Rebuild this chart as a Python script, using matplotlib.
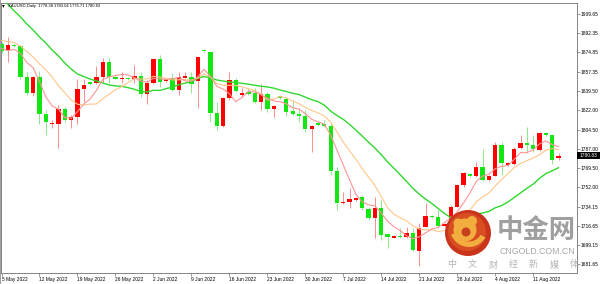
import numpy as np
import pandas as pd
import matplotlib
matplotlib.use('Agg')
import matplotlib.pyplot as plt
import matplotlib.transforms as mtransforms
from matplotlib.patches import Rectangle, Circle, Wedge

# daily XAUUSD bars, 5 May 2022 .. 16 Aug 2022
opens = [1882.6, 1877.1, 1882.1, 1881.0, 1852.2, 1837.6, 1852.2, 1818.5, 1809.3, 1809.9,
         1823.3, 1813.3, 1816.3, 1841.5, 1847.6, 1846.7, 1852.7, 1865.9, 1852.5, 1850.4,
         1851.6, 1850.4, 1853.6, 1836.7, 1846.7, 1868.9, 1849.1, 1851.3, 1840.6, 1852.0,
         1852.7, 1848.8, 1877.4, 1875.5, 1819.9, 1807.8, 1832.9, 1849.5, 1836.5, 1838.5,
         1837.6, 1829.9, 1837.0, 1823.3, 1835.1, 1832.7, 1821.2, 1819.0, 1817.2, 1805.0,
         1810.2, 1809.3, 1807.8, 1767.0, 1737.6, 1738.7, 1740.3, 1742.6, 1732.1, 1724.3,
         1733.3, 1709.0, 1705.9, 1707.7, 1706.3, 1710.5, 1694.2, 1715.9, 1725.7, 1724.5,
         1716.6, 1720.2, 1734.2, 1754.0, 1764.0, 1762.2, 1770.7, 1758.3, 1762.6, 1790.5,
         1771.9, 1773.1, 1787.3, 1792.6, 1790.0, 1786.2, 1801.1, 1799.3, 1778.38]
highs = [1884.4, 1889.0, 1883.0, 1882.1, 1857.0, 1853.4, 1857.9, 1822.4, 1813.3, 1826.9,
         1825.4, 1817.8, 1850.6, 1850.6, 1848.8, 1862.9, 1870.2, 1870.1, 1853.4, 1857.0,
         1852.5, 1863.4, 1857.3, 1849.7, 1869.8, 1872.5, 1851.5, 1856.4, 1856.6, 1857.3,
         1857.3, 1871.6, 1878.0, 1876.2, 1829.9, 1834.2, 1857.3, 1851.3, 1842.4, 1842.2,
         1842.4, 1846.1, 1839.1, 1826.9, 1836.0, 1834.5, 1831.5, 1823.9, 1822.4, 1808.7,
         1811.0, 1813.3, 1811.7, 1770.7, 1747.9, 1751.2, 1743.0, 1744.9, 1734.2, 1743.0,
         1740.3, 1709.3, 1708.4, 1714.8, 1715.4, 1714.5, 1719.3, 1738.0, 1726.6, 1731.2,
         1719.3, 1735.7, 1754.9, 1765.8, 1764.9, 1774.7, 1787.0, 1763.1, 1793.6, 1793.5,
         1774.5, 1788.2, 1799.6, 1806.9, 1799.6, 1801.9, 1801.9, 1800.0, 1783.04]
lows = [1874.4, 1866.2, 1879.8, 1851.1, 1836.1, 1835.1, 1809.6, 1799.6, 1805.9, 1787.7,
        1811.4, 1805.9, 1809.6, 1829.9, 1845.2, 1846.1, 1847.0, 1847.0, 1850.2, 1847.0,
        1849.7, 1846.7, 1834.5, 1827.8, 1846.1, 1843.6, 1847.9, 1839.7, 1836.1, 1851.5,
        1837.6, 1824.2, 1875.3, 1811.7, 1804.1, 1806.9, 1831.5, 1838.8, 1834.2, 1836.0,
        1828.8, 1822.4, 1820.8, 1815.7, 1832.4, 1816.9, 1817.8, 1811.7, 1802.0, 1784.3,
        1808.2, 1806.9, 1763.1, 1731.2, 1737.1, 1733.0, 1739.4, 1731.2, 1722.1, 1705.6,
        1703.8, 1696.2, 1705.2, 1705.6, 1705.6, 1693.8, 1680.1, 1715.7, 1723.9, 1714.8,
        1715.7, 1719.3, 1733.9, 1751.9, 1761.7, 1761.3, 1757.6, 1757.6, 1762.2, 1763.1,
        1771.3, 1772.2, 1786.8, 1782.9, 1784.3, 1785.4, 1799.1, 1772.7, 1776.71]
closes = [1876.2, 1881.7, 1880.7, 1852.2, 1837.6, 1852.2, 1818.5, 1811.2, 1810.5, 1823.3,
          1813.3, 1816.0, 1841.3, 1845.2, 1846.4, 1852.7, 1865.9, 1852.7, 1851.1, 1851.6,
          1850.4, 1853.6, 1836.7, 1846.7, 1868.9, 1847.9, 1850.6, 1840.6, 1852.2, 1853.4,
          1845.8, 1870.7, 1875.9, 1819.9, 1807.8, 1833.0, 1849.5, 1839.7, 1838.3, 1837.0,
          1829.9, 1837.0, 1823.0, 1826.3, 1833.3, 1820.6, 1818.7, 1817.2, 1805.0, 1807.8,
          1809.0, 1808.1, 1767.0, 1737.8, 1738.5, 1741.5, 1742.4, 1732.7, 1724.2, 1733.3,
          1708.4, 1706.1, 1707.5, 1706.3, 1710.5, 1694.7, 1714.8, 1725.4, 1724.5, 1716.8,
          1718.0, 1734.2, 1754.0, 1764.9, 1762.5, 1770.7, 1758.5, 1762.2, 1790.0, 1774.0,
          1773.6, 1787.1, 1792.7, 1790.2, 1786.5, 1801.1, 1799.8, 1776.8, 1780.83]

# moving averages: start of each line (needs bars before the window)
ma5_head = [1878.5, 1876.6, 1877.7, 1873.9]
ma10_head = [1885.8, 1884.8, 1883.9, 1880.7, 1875.7, 1870.7, 1864.3, 1858.9, 1852.5]
ma20_head = [1924.5, 1919.0, 1912.7, 1907.2, 1900.8, 1895.3, 1889.0, 1883.5, 1877.1, 1871.6,
             1865.2, 1859.8, 1855.2, 1852.9, 1850.6, 1848.8, 1847.0, 1845.2, 1844.3]

date_labels = ['5 May 2022', '12 May 2022', '19 May 2022', '26 May 2022', '2 Jun 2022',
               '9 Jun 2022', '16 Jun 2022', '23 Jun 2022', '30 Jun 2022', '7 Jul 2022',
               '14 Jul 2022', '21 Jul 2022', '28 Jul 2022', '4 Aug 2022', '11 Aug 2022']
price_labels = ['1909.65', '1892.35', '1874.85', '1857.35', '1839.50', '1822.00', '1804.50',
                '1787.00', '1769.50', '1752.00', '1734.15', '1716.65', '1699.15', '1681.65']
header = 'XAUUSD,Daily  1778.38 1783.04 1776.71 1780.83'
last_price = '1780.83'

plt.rcParams['font.family'] = ['Liberation Sans', 'DejaVu Sans']

n = len(closes)
idx = np.arange(n)
s = pd.Series(closes)
ma5 = s.rolling(5).mean().to_numpy()
ma5[:len(ma5_head)] = ma5_head
ma10 = s.rolling(10).mean().to_numpy()
ma10[:len(ma10_head)] = ma10_head
ma20 = s.rolling(20).mean().to_numpy()
ma20[:len(ma20_head)] = ma20_head

W, H = 602, 284
fig = plt.figure(figsize=(W / 100, H / 100), dpi=100)
fig.patch.set_facecolor('white')

def fx(px):
    return px / W

def fy(py):
    return 1 - py / H

# plot frame in pixels: x 1..576.5, y 2.7..272.7
ax = fig.add_axes([fx(1.0), fy(272.7), fx(575.5), 270.0 / H])
ax.set_xlim(-0.08, 90.84)
ax.set_ylim(1673.99, 1920.23)

# candles: red = up, green = down
for i in range(n):
    o, h, l, c = opens[i], highs[i], lows[i], closes[i]
    up = c >= o
    body = '#ff0000' if up else '#14e614'
    wick = '#ff8c8c' if up else '#8ee88e'
    ax.vlines(i, l, h, color=wick, lw=0.7, zorder=2)
    lo, hi = min(o, c), max(o, c)
    bh = max(hi - lo, 1.3)
    ax.add_patch(Rectangle((i - 0.34, (lo + hi) / 2 - bh / 2), 0.68, bh,
                           facecolor=body, edgecolor='none', zorder=3))

ax.plot(idx, ma20, color='#2fd82f', lw=1.0, zorder=4)
ax.plot(idx, ma10, color='#ffc68a', lw=0.8, zorder=4)
ax.plot(idx, ma5, color='#ff9595', lw=0.8, zorder=4)

for sp in ax.spines.values():
    sp.set_color('#707070')
    sp.set_linewidth(0.6)

ax.set_xticks(np.arange(0, 6 * len(date_labels), 6))
ax.set_xticklabels(date_labels, fontsize=3.5, ha='left')
ax.tick_params(axis='x', length=2, width=0.5, color='#707070', pad=1)
ax.yaxis.tick_right()
ax.set_yticks([float(v) for v in price_labels])
ax.set_yticklabels(price_labels, fontsize=3.5)
ax.tick_params(axis='y', length=2, width=0.5, color='#707070', pad=1)

# left window edge
fig.add_artist(Rectangle((0, 0), fx(1.0), 1, transform=fig.transFigure,
                         facecolor='#a0a0a0', edgecolor='none'))

# header
fig.text(fx(3.5), fy(5.5), '\u25be', fontsize=4, color='black', va='center', ha='center')
fig.text(fx(8.5), fy(5.5), header, fontsize=3.0, color='black', va='center', ha='left')

# current price marker on the price axis
blend = mtransforms.blended_transform_factory(fig.transFigure, ax.transData)
lp = float(last_price)
fig.add_artist(Rectangle((fx(577), lp - 3.3), fx(23), 6.6, transform=blend,
                         facecolor='black', edgecolor='none', zorder=5))
fig.text(fx(588.5), lp, last_price, transform=blend, fontsize=3.5, color='white',
         ha='center', va='center', zorder=6)

# watermark logo
tr = fig.dpi_scale_trans
cx, cy = 4.68, (H - 233) / 100
fig.add_artist(Circle((cx, cy), 0.23, transform=tr, facecolor='#c9351c', edgecolor='none', zorder=7))
fig.add_artist(Circle((cx - 0.01, cy + 0.01), 0.19, transform=tr, facecolor='#dc5424',
                      edgecolor='none', alpha=0.8, zorder=7))
fig.add_artist(Circle((cx - 0.03, cy + 0.03), 0.115, transform=tr, facecolor='#f3ad3f',
                      edgecolor='none', zorder=8))
fig.add_artist(Circle((cx - 0.10, cy + 0.10), 0.045, transform=tr, facecolor='#f3ad3f',
                      edgecolor='none', zorder=8))
fig.add_artist(Circle((cx + 0.04, cy + 0.12), 0.05, transform=tr, facecolor='#f3ad3f',
                      edgecolor='none', zorder=8))
fig.add_artist(Circle((cx - 0.02, cy + 0.01), 0.045, transform=tr, facecolor='#c9401e',
                      edgecolor='none', zorder=9))
fig.add_artist(Wedge((cx + 0.01, cy + 0.05), 0.19, 200, 330, width=0.055, transform=tr,
                     facecolor='#f3ad3f', edgecolor='none', zorder=8))

fig.text(fx(536), fy(230), '中金网', family=['Noto Sans CJK SC'], fontsize=19,
         fontweight='bold', color='#8e8e8e', alpha=0.85, ha='center', va='center', zorder=10)
fig.text(fx(537), fy(252), 'CNGOLD.COM.CN', fontsize=6.3, color='#a8a8a8',
         ha='center', va='center', zorder=10)
for k, ch in enumerate('中文财经新媒体'):
    fig.text(fx(452 + 20.4 * k), fy(265), ch, family=['Noto Sans CJK SC'], fontsize=6.5,
             color='#b4b4b4', ha='center', va='center', zorder=10)

fig.savefig('out.png', dpi=100, facecolor='white')
